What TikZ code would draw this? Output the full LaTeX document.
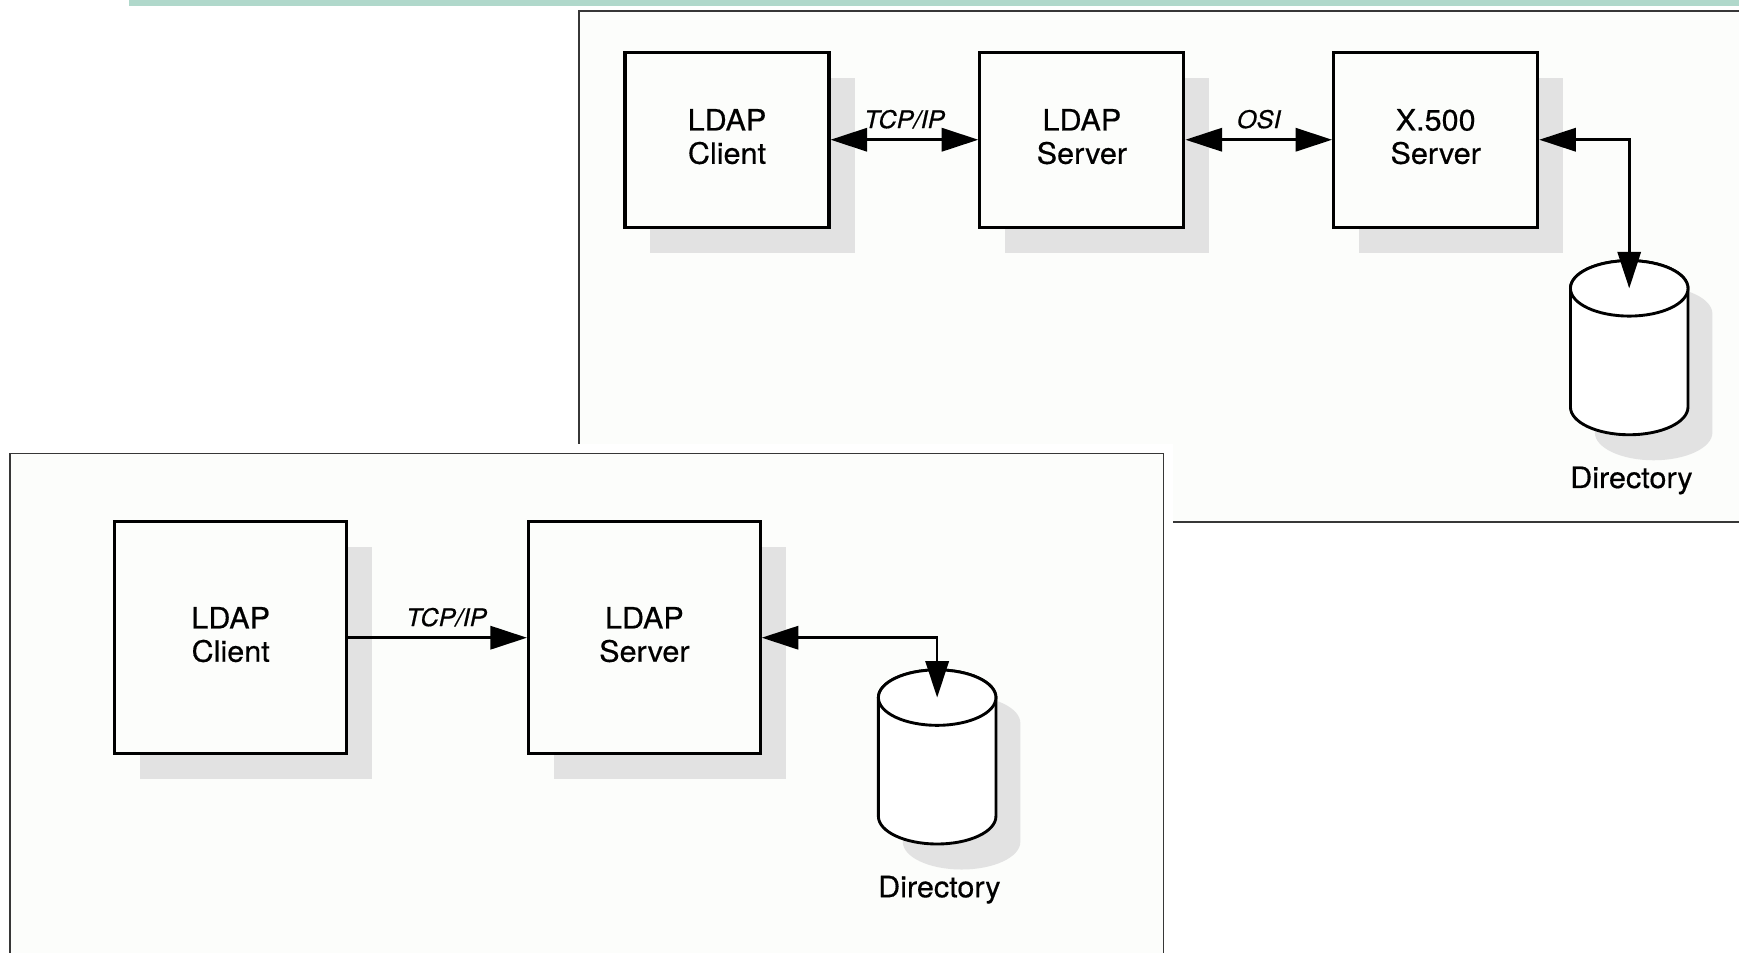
\documentclass[tikz,border=0pt]{standalone}
\usepackage{fontspec}
\setmainfont{TeX Gyre Heros}[FakeBold=0.5,FakeStretch=1.04]
\usetikzlibrary{arrows.meta,shadows}

\definecolor{bandteal}{RGB}{176,216,203}
\definecolor{panelbg}{RGB}{252,253,251}
\definecolor{shadowgray}{RGB}{226,226,226}
\definecolor{framegray}{RGB}{55,55,55}

% A directory drum: #1 name of the rim centre, #2 x of the axis, #3 y of the top rim centre
\newcommand{\dbdrum}[3]{%
  \begin{scope}[shift={(#2,#3)}]
    \fill[shadowgray] (-31,-23) -- (-31,-130)
      arc[start angle=180,end angle=360,x radius=53pt,y radius=25pt]
      -- (75,-23)
      arc[start angle=0,end angle=180,x radius=53pt,y radius=25pt] -- cycle;
    \filldraw[drumline] (-53,0) -- (-53,-107)
      arc[start angle=180,end angle=360,x radius=53pt,y radius=25pt]
      -- (53,0)
      arc[start angle=0,end angle=180,x radius=53pt,y radius=25pt] -- cycle;
    \draw[drumline] (0,0) ellipse[x radius=53pt,y radius=25pt];
    \coordinate (#1) at (0,0);
    \node[mainlabel,anchor=base] (#1-label) at (2,-180) {Directory};
  \end{scope}}

\begin{document}
\begin{tikzpicture}[x=1pt,y=1pt,
  >={Triangle[length=33pt,width=21pt]},
  panel/.style={draw=framegray,line width=1.6pt,fill=panelbg},
  unit/.style={draw=black,line width=2.8pt,fill=panelbg,inner sep=0pt,align=center,
    font=\fontsize{26.5}{30}\selectfont,text depth=6pt,
    drop shadow={shadow xshift=23pt,shadow yshift=-23pt,fill=shadowgray,opacity=1}},
  topunit/.style={unit,minimum width=184pt,minimum height=158pt},
  lowunit/.style={unit,minimum width=209pt,minimum height=209pt},
  link/.style={line width=2.3pt},
  proto/.style={font=\fontsize{22}{24}\selectfont\itshape,inner sep=0pt,anchor=base,yshift=10.5pt},
  mainlabel/.style={font=\fontsize{26.5}{30}\selectfont,inner sep=0pt},
  drumline/.style={draw=black,line width=2.6pt,fill=white}]

\useasboundingbox (0,0) rectangle (1568,-859);
\fill[white] (0,0) rectangle (1568,-859);
\fill[bandteal] (116,0) rectangle (1568,-5);

% upper panel: client, LDAP server and X.500 server
\draw[panel] (522,-10) rectangle (1600,-471);
\node[topunit] (c1) at (655.5,-126) {LDAP\\Client};
\node[topunit] (s1) at (975.5,-126) {LDAP\\Server};
\node[topunit] (x5) at (1294.5,-126) {X.500\\Server};
\draw[link,<->] (c1.east) -- node[proto,midway] (p1) {TCP/IP} (s1.west);
\draw[link,<->] (s1.east) -- node[proto,midway] (p2) {OSI} (x5.west);
\dbdrum{db1}{1469}{-260}
\draw[link,<->] (x5.east) -| (db1);

% lower panel: client and stand-alone LDAP server
\fill[white] (0,-400) rectangle (1058,-870);
\draw[panel] (9,-409) rectangle (1049,-880);
\node[lowunit] (c2) at (208,-575) {LDAP\\Client};
\node[lowunit] (s2) at (581,-575) {LDAP\\Server};
\draw[link,->] (c2.east) -- node[proto,pos=0.55] (p3) {TCP/IP} (s2.west);
\dbdrum{db2}{845}{-629}
\draw[link,<->] (s2.east) -| (db2);

\end{tikzpicture}
\end{document}
